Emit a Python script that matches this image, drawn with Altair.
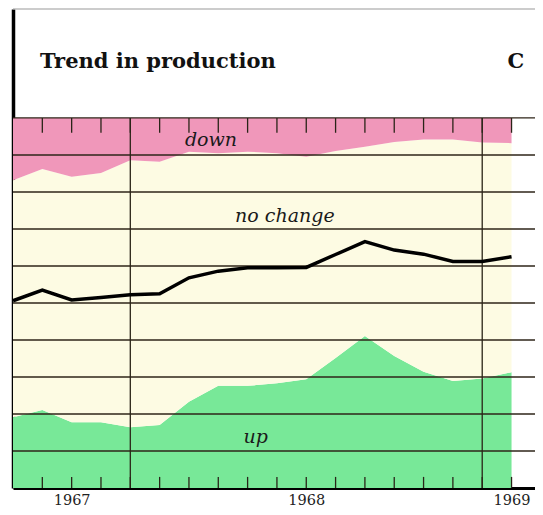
import altair as alt
import pandas as pd

# Months from Sep 1967 (index 0) to Feb 1969 (index 17)
months = list(range(18))
up = [19.1, 21.1, 17.8, 17.8, 16.4, 17.0, 23.3, 27.6, 27.6, 28.3, 29.4, 35.1, 41.1, 35.7, 31.4, 28.9, 29.6, 31.3]
down = [16.8, 13.8, 15.9, 14.9, 11.4, 11.8, 9.1, 9.5, 9.1, 9.5, 10.5, 8.9, 7.8, 6.5, 5.8, 5.8, 6.6, 6.8]
net = [50.6, 53.5, 50.8, 51.5, 52.2, 52.5, 56.8, 58.6, 59.5, 59.5, 59.6, 63.1, 66.6, 64.3, 63.2, 61.2, 61.2, 62.5]

year_labels = ["1967", "1968", "1969"]
year_label_pos = [2, 10, 17]
year_starts = [4, 16]
tick_months = list(range(1, 18))
grid_values = [10, 20, 30, 40, 50, 60, 70, 80, 90, 100]

TOP = 129.45
XMAX = 17.8
df = pd.DataFrame({"m": months, "up": up, "down": down, "net": net})
df["zero"] = 0
df["nc_top"] = [100 - d for d in down]
df["hundred"] = 100

expr = " : ".join(
    f"datum.value == {p} ? '{l}'" for p, l in zip(year_label_pos[:-1], year_labels[:-1])
) + f" : '{year_labels[-1]}'"

xs = alt.Scale(domain=[0, XMAX], nice=False, zero=False)
ys = alt.Scale(domain=[0, TOP], nice=False)
x_axis = alt.Axis(values=year_label_pos, labelExpr=expr, ticks=False, grid=False,
                  domainWidth=3, domainColor="black", title=None,
                  labelFont="DejaVu Serif", labelFontSize=14.5, labelColor="#222",
                  labelPadding=5, minExtent=0)
y_axis = alt.Axis(labels=False, ticks=False, grid=False, domainWidth=3.5,
                  domainColor="black", title=None, minExtent=0, maxExtent=0)

X = alt.X("m:Q", scale=xs, axis=x_axis)
base = alt.Chart(df)

area_up = base.mark_area(color="#78e898", opacity=1).encode(
    x=X, y=alt.Y("zero:Q", scale=ys, axis=y_axis), y2="up:Q")
area_nc = base.mark_area(color="#fdfbe3", opacity=1).encode(
    x=X, y=alt.Y("up:Q", scale=ys, axis=y_axis), y2="nc_top:Q")
area_dn = base.mark_area(color="#f097ba", opacity=1).encode(
    x=X, y=alt.Y("nc_top:Q", scale=ys, axis=y_axis), y2="hundred:Q")

grid = alt.Chart(pd.DataFrame({"g": grid_values})).mark_rule(
    color="#2e2418", strokeWidth=1.3).encode(y=alt.Y("g:Q", scale=ys, axis=y_axis))
topline = alt.Chart(pd.DataFrame({"g": [TOP]})).mark_rule(
    color="#999", strokeWidth=1).encode(y=alt.Y("g:Q", scale=ys, axis=y_axis))

ydf = pd.DataFrame({"m": year_starts, "a": [0] * len(year_starts), "b": [100] * len(year_starts)})
yearlines = alt.Chart(ydf).mark_rule(color="#2a2418", strokeWidth=1.3).encode(
    x=X, y=alt.Y("a:Q", scale=ys, axis=y_axis), y2="b:Q")

tdf = pd.DataFrame({"m": tick_months, "a": [96] * 17, "b": [100] * 17,
                    "c": [0] * 17, "d": [3] * 17})
ticks_top = alt.Chart(tdf).mark_rule(color="#2a2418", strokeWidth=1.3).encode(
    x=X, y=alt.Y("a:Q", scale=ys, axis=y_axis), y2="b:Q")
ticks_bot = alt.Chart(tdf).mark_rule(color="#2a2418", strokeWidth=1.3).encode(
    x=X, y=alt.Y("c:Q", scale=ys, axis=y_axis), y2="d:Q")

line = base.mark_line(color="black", strokeWidth=3.5, strokeJoin="miter").encode(
    x=X, y=alt.Y("net:Q", scale=ys, axis=y_axis))

ldf = pd.DataFrame({"m": [6.75, 9.27, 8.28], "v": [92.4, 71.9, 12.2],
                    "t": ["down", "no change", "up"]})
labels = alt.Chart(ldf).mark_text(font="DejaVu Serif", fontStyle="italic", fontSize=19,
                                   color="#1a1a1a", align="center", baseline="alphabetic").encode(
    x=X, y=alt.Y("v:Q", scale=ys, axis=y_axis), text="t:N")

title = alt.Chart(pd.DataFrame({"m": [0.92], "v": [113.5], "t": ["Trend in production"]})).mark_text(
    font="DejaVu Serif", fontWeight="bold", fontSize=21, color="#111", align="left",
    baseline="alphabetic").encode(x=X, y=alt.Y("v:Q", scale=ys, axis=y_axis), text="t:N")
corner = alt.Chart(pd.DataFrame({"m": [17.15], "v": [113.5], "t": ["C"]})).mark_text(
    font="DejaVu Serif", fontWeight="bold", fontSize=21, color="#111", align="center",
    baseline="alphabetic").encode(x=X, y=alt.Y("v:Q", scale=ys, axis=y_axis), text="t:N")

chart = alt.layer(area_up, area_nc, area_dn, grid, topline, yearlines, ticks_top, ticks_bot,
                  line, labels, title, corner).properties(
    width=522, height=479,
    padding={"left": 5, "top": 1, "right": 0, "bottom": 19},
    autosize=alt.AutoSizeParams(type="none"),
    background="white",
).configure_view(stroke=None)

chart.save("out.html", embed_options={"renderer": "svg", "actions": False})
